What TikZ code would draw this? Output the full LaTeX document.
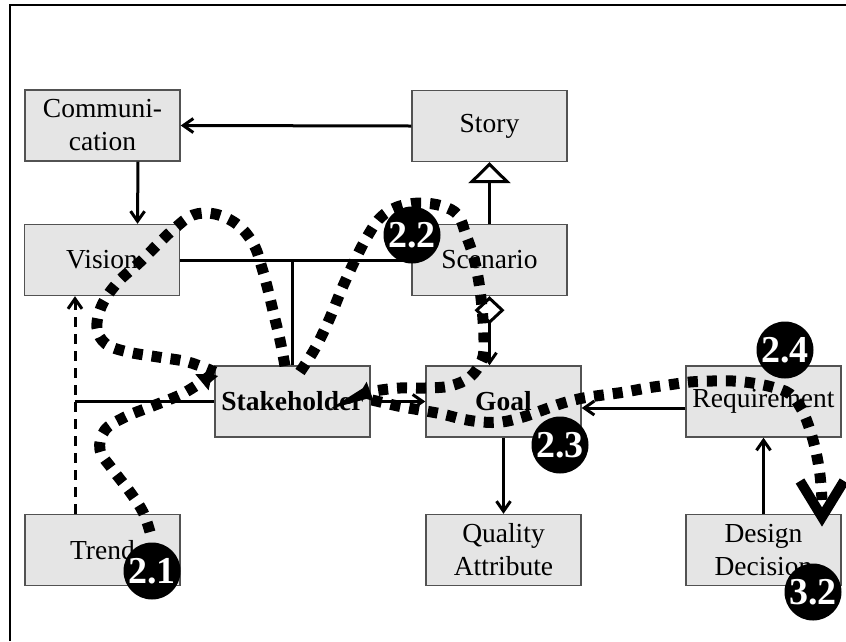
\documentclass[tikz,border=0pt]{standalone}
\usepackage{fontspec}
\setmainfont{Liberation Serif}
\usetikzlibrary{arrows.meta,calc}

\tikzset{
  box/.style={draw=black!68, line width=1.4pt, fill=black!10,
    minimum width=155pt, minimum height=71pt, inner sep=0pt, align=center,
    font=\fontsize{27.5}{33}\selectfont},
  line/.style={line width=3pt, black},
  barb/.style={-{Straight Barb[length=10pt,width=14pt]}},
  conn/.style={line, barb},
  trail/.style={line width=11pt, black, dash pattern=on 10pt off 9pt},
  trailtip/.style={-{Triangle[length=13pt,width=20pt]}},
  marker/.style={circle, fill=black, text=white, minimum size=57pt, inner sep=0pt,
    font=\fontsize{38}{38}\bfseries\selectfont}
}

\begin{document}
\begin{tikzpicture}[x=1pt, y=-1pt]
\useasboundingbox (0,0) rectangle (846,641);

% outer frame (top and left edges)
\draw[line width=1.4pt] (10,641) -- (10,5) -- (846,5);

% classes
\node[box] (comm)   at (102.5,125.5) {Communi-\\cation};
\node[box] (story)  at (489.5,126)   {Story};
\node[box] (vision) at (102,260)     {Vision};
\node[box] (scen)   at (489.5,260)   {Scenario};
\node[box] (stake)  at (292.5,401.5) {\bfseries Stakeholder};
\node[box] (goal)   at (503.5,401.5) {\bfseries Goal};
\node[box] (req)    at (763.5,401.5) {Requirement};
\node[box] (trend)  at (102.5,550)   {Trend};
\node[box] (qa)     at (503.5,550)   {Quality\\Attribute};
\node[box] (dd)     at (763.5,550)   {Design\\Decision};

% relations
\draw[conn] (story.west) -- (comm.east);
\draw[conn] ([xshift=35.5pt]comm.south) -- ([xshift=35.5pt]vision.north);
\draw[line, -{Triangle[open, fill=white, length=21pt, width=42pt]}] (scen.north) -- (story.south);
\draw[line] (vision.east) -- (scen.west);
\coordinate (vsj) at (stake.north |- vision.east);
\draw[line] (stake.north) -- (vsj);
\draw[conn, dash pattern=on 10pt off 7pt] ([xshift=-27.5pt]trend.north) -- ([xshift=-27pt]vision.south);
\coordinate (tvj) at ([xshift=-27.5pt]trend.north |- stake.west);
\draw[line] (stake.west) -- (tvj);
\draw[conn] (stake.east) -- (goal.west);
\draw[line, {Diamond[open, fill=white, length=28pt, width=30pt]}-{Straight Barb[length=10pt,width=14pt]}]
  (scen.south) -- (scen.south |- goal.north);
\draw[conn] (goal.south) -- (qa.north);
\draw[conn] ([yshift=-6.5pt]req.west) -- ([yshift=-6.5pt]goal.east);
\draw[conn] (dd.north) -- (req.south);

% walkthrough trails
\draw[trail, trailtip] plot[smooth, tension=0.6] coordinates {
  (150,532) (143,512) (130,492) (113,470) (100,450) (105,430) (125,417)
  (150,407) (180,395) (200,383) (212,374)};
\draw[trail] plot[smooth, tension=0.6] coordinates {
  (285,366) (280,340) (274,315) (268,290) (262,268) (254,245) (238,225)
  (215,214) (193,215) (175,228) (160,242) (140,262) (118,282) (102,305)
  (97,328) (106,344) (128,352) (158,357) (188,362) (215,372)};
\draw[trail, trailtip] plot[smooth, tension=0.6] coordinates {
  (300,372) (313,352) (323,333) (332,313) (340,293) (348,275) (357,256)
  (367,237) (380,218) (397,207) (420,203) (442,206) (458,215) (466,235)
  (473,255) (478,277) (481,298) (483,320) (484,342) (482,360) (470,377)
  (450,386) (425,388) (400,388) (375,391) (358,396)};
\draw[trail] plot[smooth, tension=0.6] coordinates {
  (372,400) (398,406) (420,410) (442,414) (462,419) (482,422) (502,422)
  (523,417) (543,410) (563,403) (583,398) (603,395) (625,392) (647,388)
  (668,385) (690,382) (712,381) (733,381) (752,383) (772,387) (790,394)
  (802,410) (810,430) (816,452) (820,475) (822,500)};
\draw[line width=10pt, line join=miter] (800,481) -- (822,517) -- (844,481);

% walkthrough steps
\node[marker] (m21) at (152,571) {2.1};
\node[marker] (m22) at (412,235) {2.2};
\node[marker] (m23) at (560,445) {2.3};
\node[marker] (m24) at (785,350) {2.4};
\node[marker] (m32) at (813,592) {3.2};
\end{tikzpicture}
\end{document}
